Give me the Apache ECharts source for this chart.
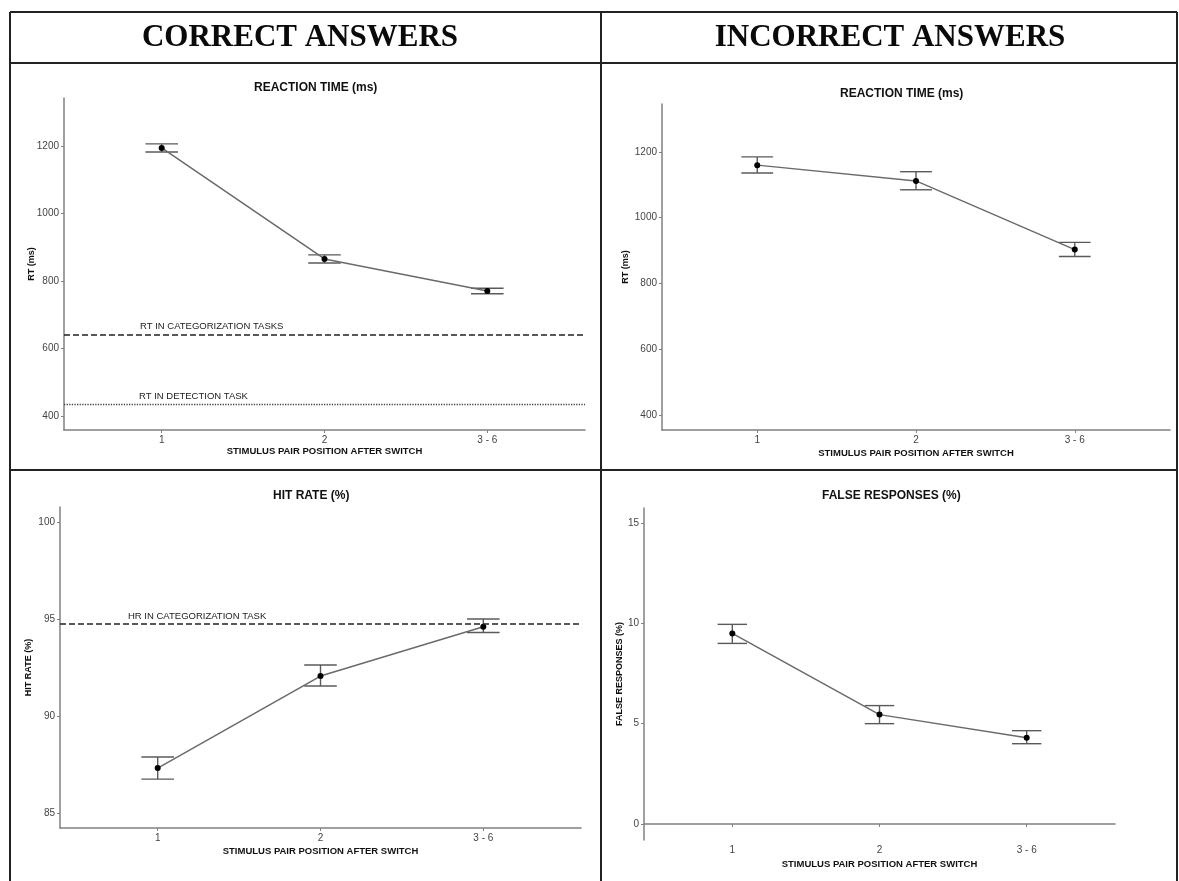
<!DOCTYPE html>
<html>
<head>
<meta charset="utf-8">
<script src="https://cdn.jsdelivr.net/npm/echarts@6/dist/echarts.min.js"></script>
<style>
html, body { margin: 0; padding: 0; background: #fff; }
#chart { width: 1179px; height: 881px; }
</style>
</head>
<body>
<div id="chart"></div>
<script>
// x categories
var positions = ['1', '2', '3 - 6'];

// correct answers: reaction time (ms)
var rtCorrect = [1194, 865, 770];
var rtCorrectLow = [1182, 853, 762];
var rtCorrectHigh = [1206, 877, 778];

// incorrect answers: reaction time (ms)
var rtIncorrect = [1160, 1112, 903];
var rtIncorrectLow = [1136, 1085, 882];
var rtIncorrectHigh = [1185, 1140, 925];

// correct answers: hit rate (%)
var hitRate = [87.32, 92.06, 94.6];
var hitRateLow = [86.75, 91.55, 94.3];
var hitRateHigh = [87.89, 92.63, 95.0];

// incorrect answers: false responses (%)
var falseResp = [9.5, 5.45, 4.3];
var falseRespLow = [9.0, 5.0, 4.0];
var falseRespHigh = [9.95, 5.9, 4.65];

// reference levels
var rtCategorization = 640;
var rtDetection = 435;
var hrCategorization = 94.74;

// tick labels
var rtTicks = [400, 600, 800, 1000, 1200];
var hrTicks = [85, 90, 95, 100];
var frTicks = [0, 5, 10, 15];

var FONT = '"Liberation Sans", Arial, sans-serif';
var AXIS_COLOR = '#808080';
var xTitle = 'STIMULUS PAIR POSITION AFTER SWITCH';

var chart = echarts.init(document.getElementById('chart'));

function xAxisFor(gi, gap) {
  return {
    gridIndex: gi,
    type: 'value',
    min: 0.4,
    max: 3.6,
    name: xTitle,
    nameLocation: 'middle',
    nameGap: gap,
    nameMoveOverlap: false,
    nameTextStyle: { fontFamily: FONT, fontSize: 9.5, fontWeight: 'bold', color: '#111' },
    axisLine: { show: true, lineStyle: { color: AXIS_COLOR, width: 1.5 } },
    axisTick: { show: true, length: 3, customValues: [1, 2, 3], lineStyle: { color: AXIS_COLOR } },
    axisLabel: {
      customValues: [1, 2, 3],
      margin: 5,
      fontFamily: FONT, fontSize: 10, color: '#444',
      formatter: function (v) { return positions[Math.round(v) - 1]; }
    },
    splitLine: { show: false }
  };
}

function yAxisFor(gi, min, max, ticks, name, gap) {
  return {
    gridIndex: gi,
    type: 'value',
    min: min,
    max: max,
    name: name,
    nameLocation: 'middle',
    nameGap: gap,
    nameRotate: 90,
    nameMoveOverlap: false,
    nameTextStyle: { fontFamily: FONT, fontSize: 9, fontWeight: 'bold', color: '#111' },
    axisLine: { show: true, lineStyle: { color: AXIS_COLOR, width: 1.5 } },
    axisTick: { show: true, length: 3, customValues: ticks, lineStyle: { color: AXIS_COLOR } },
    axisLabel: {
      customValues: ticks, margin: 5, fontFamily: FONT, fontSize: 10, color: '#444',
      formatter: function (v) { return String(v); }
    },
    splitLine: { show: false }
  };
}

function points(vals) {
  return vals.map(function (v, i) { return [i + 1, v]; });
}

function bars(low, high) {
  return low.map(function (v, i) { return [i + 1, v, high[i]]; });
}

function errorBar(params, api) {
  var x = api.value(0), lo = api.value(1), hi = api.value(2);
  var a = api.coord([x, lo]), b = api.coord([x, hi]);
  var l1 = api.coord([x - 0.1, lo]), r1 = api.coord([x + 0.1, lo]);
  var l2 = api.coord([x - 0.1, hi]), r2 = api.coord([x + 0.1, hi]);
  var st = { stroke: '#5a5a5a', lineWidth: 1.4 };
  return {
    type: 'group',
    children: [
      { type: 'line', shape: { x1: a[0], y1: a[1], x2: b[0], y2: b[1] }, style: st },
      { type: 'line', shape: { x1: l1[0], y1: l1[1], x2: r1[0], y2: r1[1] }, style: st },
      { type: 'line', shape: { x1: l2[0], y1: l2[1], x2: r2[0], y2: r2[1] }, style: st }
    ]
  };
}

function refLine(value, text, type, width, color, dx) {
  return {
    yAxis: value,
    lineStyle: { type: type, width: width, color: color },
    label: {
      show: true,
      formatter: text,
      position: 'insideStartTop',
      distance: [dx, 3],
      fontFamily: FONT, fontSize: 9.5, color: '#222'
    }
  };
}

function seriesFor(gi, vals, low, high, marks) {
  var list = [
    {
      type: 'custom',
      xAxisIndex: gi, yAxisIndex: gi,
      renderItem: errorBar,
      encode: { x: 0, y: [1, 2] },
      data: bars(low, high),
      silent: true,
      z: 2
    },
    {
      type: 'line',
      xAxisIndex: gi, yAxisIndex: gi,
      data: points(vals),
      symbol: 'circle',
      symbolSize: 6,
      itemStyle: { color: '#000' },
      lineStyle: { color: '#6a6a6a', width: 1.5 },
      silent: true,
      z: 3
    }
  ];
  if (marks) {
    list[1].markLine = { silent: true, symbol: 'none', animation: false, data: marks };
  }
  return list;
}

function frameLine(x1, y1, x2, y2) {
  return { type: 'line', shape: { x1: x1, y1: y1, x2: x2, y2: y2 }, style: { stroke: '#222', lineWidth: 2 }, silent: true };
}

function header(x, text) {
  return {
    type: 'text', x: x, y: 38, silent: true,
    style: {
      text: text,
      font: 'bold 31px "Liberation Serif", "Times New Roman", serif',
      fill: '#0a0a0a',
      align: 'center',
      verticalAlign: 'middle',
      shadowBlur: 5,
      shadowColor: 'rgba(0,0,0,0.55)',
      shadowOffsetY: 3
    }
  };
}

function panelTitle(text, left, top) {
  return {
    text: text, left: left, top: top, padding: 0,
    textStyle: { fontFamily: FONT, fontSize: 12, fontWeight: 'bold', color: '#111' }
  };
}

var option = {
  backgroundColor: '#fff',
  animation: false,
  title: [
    panelTitle('REACTION TIME (ms)', 254, 82),
    panelTitle('REACTION TIME (ms)', 840, 88),
    panelTitle('HIT RATE (%)', 273, 490),
    panelTitle('FALSE RESPONSES (%)', 822, 490)
  ],
  grid: [
    { left: 64, top: 98, width: 521, height: 332 },
    { left: 662, top: 104, width: 508, height: 326 },
    { left: 60, top: 507, width: 521, height: 321 },
    { left: 644, top: 508, width: 471, height: 332 }
  ],
  xAxis: [
    xAxisFor(0, 16),
    xAxisFor(1, 18),
    xAxisFor(2, 18),
    xAxisFor(3, 19)
  ],
  yAxis: [
    yAxisFor(0, 358, 1342, rtTicks, 'RT (ms)', 28),
    yAxisFor(1, 354, 1346, rtTicks, 'RT (ms)', 32),
    yAxisFor(2, 84.23, 100.77, hrTicks, 'HIT RATE (%)', 27),
    yAxisFor(3, -0.8, 15.75, frTicks, 'FALSE RESPONSES (%)', 20)
  ],
  series: [].concat(
    seriesFor(0, rtCorrect, rtCorrectLow, rtCorrectHigh, [
      refLine(rtCategorization, 'RT IN CATEGORIZATION TASKS', 'dashed', 1.5, '#222', 76),
      refLine(rtDetection, 'RT IN DETECTION TASK', 'dotted', 1.3, '#444', 75)
    ]),
    seriesFor(1, rtIncorrect, rtIncorrectLow, rtIncorrectHigh, null),
    seriesFor(2, hitRate, hitRateLow, hitRateHigh, [
      refLine(hrCategorization, 'HR IN CATEGORIZATION TASK', 'dashed', 1.5, '#222', 68)
    ]),
    seriesFor(3, falseResp, falseRespLow, falseRespHigh, null)
  ),
  graphic: [
    frameLine(10, 12, 1177, 12),
    frameLine(10, 63, 1177, 63),
    frameLine(10, 470, 1177, 470),
    frameLine(10, 12, 10, 881),
    frameLine(601, 12, 601, 881),
    frameLine(1177, 12, 1177, 881),
    header(300, 'CORRECT ANSWERS'),
    header(890, 'INCORRECT ANSWERS')
  ]
};

chart.setOption(option);
</script>
</body>
</html>
